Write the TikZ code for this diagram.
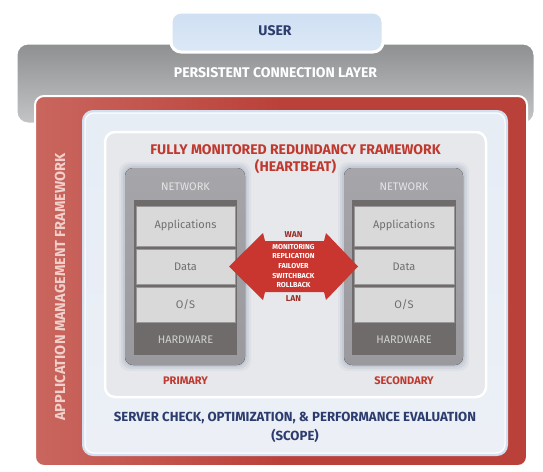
\documentclass[tikz,border=0pt]{standalone}
\usepackage{fontspec}
\setmainfont{Fira Sans}
\definecolor{navy}{HTML}{2D3C6E}
\definecolor{redtxt}{HTML}{C0392F}
\definecolor{redbox}{HTML}{BA413A}
\definecolor{redlight}{HTML}{C9665E}
\definecolor{grayband}{HTML}{8E8F91}
\definecolor{graybandlo}{HTML}{C4C5C7}
\definecolor{userblue}{HTML}{CFE0F3}
\definecolor{userbluelo}{HTML}{DCE8F6}
\definecolor{paleblue}{HTML}{ECF0F6}
\definecolor{paleedge}{HTML}{D3DFEE}
\definecolor{hbfill}{HTML}{E7E8EB}
\definecolor{srvout}{HTML}{A6A6AA}
\definecolor{srvoutlo}{HTML}{9A9A9E}
\definecolor{srvdark}{HTML}{6E6B6A}
\definecolor{layer}{HTML}{D9D9DA}
\definecolor{layertxt}{HTML}{6F6F70}
\definecolor{glow}{HTML}{AEB6C6}
\definecolor{arrowred}{HTML}{C8362F}
\definecolor{amf}{HTML}{F0CFCA}
\tikzset{
  lbl/.style={inner sep=0pt, font=\fontsize{14}{16}\selectfont\bfseries},
  small/.style={inner sep=0pt, font=\fontsize{11}{13}\selectfont\bfseries},
  layerbox/.style={fill=layer, draw=srvdark!70, line width=0.4pt},
  layerlbl/.style={inner sep=0pt, text=layertxt, font=\fontsize{11}{13}\selectfont},
  srvlbl/.style={inner sep=0pt, font=\fontsize{11}{13}\selectfont},
  arrowlbl/.style={inner sep=0pt, text=white, align=center, font=\fontsize{7.2}{9.6}\selectfont\bfseries},
  lanlbl/.style={inner sep=0pt, text=redtxt!80!black, font=\fontsize{8.5}{9}\selectfont\bfseries},
}
\begin{document}
\begin{tikzpicture}[x=1pt,y=-1pt]
\useasboundingbox (0,0) rectangle (543,471);
\fill[white] (0,0) rectangle (543,471);

% persistent connection layer band
\draw[white, line width=3pt, rounded corners=12pt, top color=grayband, bottom color=graybandlo]
  (16,43) rectangle (535,124);
% user box
\draw[white, line width=3pt, rounded corners=10pt, top color=userblue, bottom color=userbluelo]
  (171,12) rectangle (383,52);
\node[lbl, text=navy] (user) at (275,31) {USER};
\node[lbl, text=white] (pcl) at (275.5,73) {PERSISTENT CONNECTION LAYER};

% application management framework (red)
\draw[white, line width=2pt, rounded corners=9pt, left color=redlight, right color=redbox, middle color=redbox]
  (35,96) rectangle (527,466);
\node[lbl, text=amf, font=\fontsize{14.5}{16}\selectfont\bfseries, rotate=90] (amf) at (60,287) {APPLICATION MANAGEMENT FRAMEWORK};

% scope box
\draw[paleedge, line width=2pt, rounded corners=10pt, top color=paleblue!80!userblue, bottom color=paleblue]
  (83,111) rectangle (507,455);
\draw[white, line width=1pt, rounded corners=9pt] (85,113) rectangle (505,453);

% heartbeat box
\draw[white, line width=2.5pt, rounded corners=10pt, fill=hbfill]
  (105,132) rectangle (486,397);
\node[lbl, text=redtxt] (hb1) at (295.5,149.5) {FULLY MONITORED REDUNDANCY FRAMEWORK};
\node[lbl, text=redtxt] (hb2) at (295.5,166.5) {(HEARTBEAT)};

% servers
\foreach \nm/\xa/\xb/\ia/\ib in {p/125/245/134/237, s/344/463/352/456}{
  \foreach \g/\o in {6/0.15,4/0.25,2/0.35}{
    \fill[glow, opacity=\o, rounded corners=10pt] (\xa-\g,168-\g) rectangle (\xb+\g,365+\g);
  }
  \fill[rounded corners=8pt, top color=srvout, bottom color=srvoutlo] (\xa,168) rectangle (\xb,365);
  \fill[srvdark] (\ia,200) rectangle (\ib,355);
  \draw[layerbox] (\ia+2,206) rectangle (\ib-2,246);
  \draw[layerbox] (\ia+2,249) rectangle (\ib-2,284);
  \draw[layerbox] (\ia+2,287) rectangle (\ib-2,322);
}
\foreach \nm/\cx in {p/185.5, s/404}{
  \node[srvlbl, text=white!90!black] (net\nm) at (\cx,187) {NETWORK};
  \node[layerlbl] (app\nm) at (\cx,225.5) {Applications};
  \node[layerlbl] (dat\nm) at (\cx,266.5) {Data};
  \node[layerlbl] (os\nm) at (\cx,305) {O/S};
  \node[srvlbl, text=white!82!black] (hw\nm) at (\cx,339.5) {HARDWARE};
}
\node[small, text=redtxt] (prim) at (185.5,381) {PRIMARY};
\node[small, text=redtxt] (sec) at (404,381) {SECONDARY};

% double arrow
\coordinate (tipL) at (229,266.5);
\coordinate (tipR) at (358,266.5);
\fill[arrowred] (tipL) -- (263,233) -- (265,241) -- (324,241) -- (326,233) -- (tipR)
  -- (326,300) -- (324,292) -- (265,292) -- (263,300) -- cycle;
\node[arrowlbl] (mon) at (293.5,266) {MONITORING\\REPLICATION\\FAILOVER\\SWITCHBACK\\ROLLBACK};
\node[lanlbl] (wan) at (293.5,234.5) {WAN};
\node[lanlbl] (lan) at (293.5,299) {LAN};

% scope text
\node[lbl, text=navy, font=\fontsize{13.2}{15}\selectfont\bfseries] (sc1) at (295,418) {SERVER CHECK, OPTIMIZATION, \& PERFORMANCE EVALUATION};
\node[lbl, text=navy, font=\fontsize{13.2}{15}\selectfont\bfseries] (sc2) at (295,435.5) {(SCOPE)};
\end{tikzpicture}
\end{document}
